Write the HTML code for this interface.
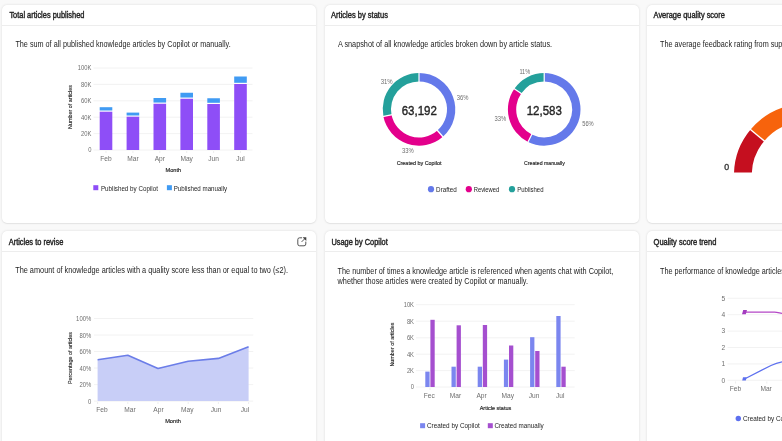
<!DOCTYPE html>
<html><head><meta charset="utf-8"><style>
html,body{margin:0;padding:0}
body{width:782px;height:441px;overflow:hidden;position:relative;background:#f9f9f9;font-family:"Liberation Sans", sans-serif}
#root{position:absolute;left:0;top:0;width:782px;height:441px;will-change:transform}
.card{position:absolute;background:#fff;border-radius:5px;box-shadow:0 0 2.5px rgba(0,0,0,0.13),0 0.5px 1px rgba(0,0,0,0.05)}
.div{position:absolute;height:1px;background:#ededed}
svg{position:absolute;left:0;top:0}
</style></head><body><div id="root">
<div class="card" style="left:2.4px;top:4.6px;width:314.1px;height:218.1px"></div>
<div class="card" style="left:324.8px;top:4.6px;width:314.3px;height:218.1px"></div>
<div class="card" style="left:647.3px;top:4.6px;width:150px;height:218.1px"></div>
<div class="card" style="left:2.4px;top:231.3px;width:314.1px;height:230px"></div>
<div class="card" style="left:324.8px;top:231.3px;width:314.3px;height:230px"></div>
<div class="card" style="left:647.3px;top:231.3px;width:150px;height:230px"></div>
<div class="div" style="left:2.4px;top:24.700000000000003px;width:314.1px"></div>
<div class="div" style="left:324.8px;top:24.700000000000003px;width:314.3px"></div>
<div class="div" style="left:647.3px;top:24.700000000000003px;width:150px"></div>
<div class="div" style="left:2.4px;top:251.20000000000002px;width:314.1px"></div>
<div class="div" style="left:324.8px;top:251.20000000000002px;width:314.3px"></div>
<div class="div" style="left:647.3px;top:251.20000000000002px;width:150px"></div>
<svg width="782" height="441" viewBox="0 0 782 441" style="font-family:"Liberation Sans", sans-serif">
<text x="9.4" y="17.7" font-size="8.3" font-weight="normal" fill="#242424" text-anchor="start" textLength="75" lengthAdjust="spacingAndGlyphs" stroke="#242424" stroke-width="0.398">Total articles published</text>
<text x="331.1" y="17.7" font-size="8.3" font-weight="normal" fill="#242424" text-anchor="start" textLength="56.8" lengthAdjust="spacingAndGlyphs" stroke="#242424" stroke-width="0.398">Articles by status</text>
<text x="653.6" y="17.7" font-size="8.3" font-weight="normal" fill="#242424" text-anchor="start" textLength="71.2" lengthAdjust="spacingAndGlyphs" stroke="#242424" stroke-width="0.398">Average quality score</text>
<text x="8.7" y="245.1" font-size="8.3" font-weight="normal" fill="#242424" text-anchor="start" textLength="54.6" lengthAdjust="spacingAndGlyphs" stroke="#242424" stroke-width="0.398">Articles to revise</text>
<text x="331.4" y="245.1" font-size="8.3" font-weight="normal" fill="#242424" text-anchor="start" textLength="56.3" lengthAdjust="spacingAndGlyphs" stroke="#242424" stroke-width="0.398">Usage by Copilot</text>
<text x="653.6" y="245.1" font-size="8.3" font-weight="normal" fill="#242424" text-anchor="start" textLength="62.7" lengthAdjust="spacingAndGlyphs" stroke="#242424" stroke-width="0.398">Quality score trend</text>
<text x="15.4" y="46.9" font-size="8.8" font-weight="normal" fill="#242424" text-anchor="start" textLength="215.3" lengthAdjust="spacingAndGlyphs">The sum of all published knowledge articles by Copilot or manually.</text>
<text x="337.9" y="46.9" font-size="8.8" font-weight="normal" fill="#242424" text-anchor="start" textLength="214.2" lengthAdjust="spacingAndGlyphs">A snapshot of all knowledge articles broken down by article status.</text>
<text x="660" y="46.9" font-size="8.8" font-weight="normal" fill="#242424" text-anchor="start" textLength="185.58" lengthAdjust="spacingAndGlyphs">The average feedback rating from supervisors and agents</text>
<text x="15.2" y="273.4" font-size="8.8" font-weight="normal" fill="#242424" text-anchor="start" textLength="272.8" lengthAdjust="spacingAndGlyphs">The amount of knowledge articles with a quality score less than or equal to two (≤2).</text>
<text x="337.6" y="273.6" font-size="8.8" font-weight="normal" fill="#242424" text-anchor="start" textLength="275.7" lengthAdjust="spacingAndGlyphs">The number of times a knowledge article is referenced when agents chat with Copilot,</text>
<text x="337.6" y="283.6" font-size="8.8" font-weight="normal" fill="#242424" text-anchor="start" textLength="190.4" lengthAdjust="spacingAndGlyphs">whether those articles were created by Copilot or manually.</text>
<text x="660" y="273.8" font-size="8.8" font-weight="normal" fill="#242424" text-anchor="start" textLength="231.73" lengthAdjust="spacingAndGlyphs">The performance of knowledge articles created by Copilot and manually.</text>
<line x1="93.5" y1="150" x2="252.5" y2="150" stroke="#efefef" stroke-width="0.8"/>
<text x="91.4" y="152.4" font-size="6.6" font-weight="normal" fill="#6e6e6e" text-anchor="end" textLength="3.23" lengthAdjust="spacingAndGlyphs">0</text>
<line x1="93.5" y1="133.6" x2="252.5" y2="133.6" stroke="#efefef" stroke-width="0.8"/>
<text x="91.4" y="136.0" font-size="6.6" font-weight="normal" fill="#6e6e6e" text-anchor="end" textLength="10.33" lengthAdjust="spacingAndGlyphs">20K</text>
<line x1="93.5" y1="117.2" x2="252.5" y2="117.2" stroke="#efefef" stroke-width="0.8"/>
<text x="91.4" y="119.60000000000001" font-size="6.6" font-weight="normal" fill="#6e6e6e" text-anchor="end" textLength="10.33" lengthAdjust="spacingAndGlyphs">40K</text>
<line x1="93.5" y1="100.8" x2="252.5" y2="100.8" stroke="#efefef" stroke-width="0.8"/>
<text x="91.4" y="103.2" font-size="6.6" font-weight="normal" fill="#6e6e6e" text-anchor="end" textLength="10.33" lengthAdjust="spacingAndGlyphs">60K</text>
<line x1="93.5" y1="84.4" x2="252.5" y2="84.4" stroke="#efefef" stroke-width="0.8"/>
<text x="91.4" y="86.80000000000001" font-size="6.6" font-weight="normal" fill="#6e6e6e" text-anchor="end" textLength="10.33" lengthAdjust="spacingAndGlyphs">80K</text>
<line x1="93.5" y1="68" x2="252.5" y2="68" stroke="#efefef" stroke-width="0.8"/>
<text x="91.4" y="70.4" font-size="6.6" font-weight="normal" fill="#6e6e6e" text-anchor="end" textLength="13.56" lengthAdjust="spacingAndGlyphs">100K</text>
<rect x="99.70" y="111.70" width="12.60" height="38.30" fill="#8e4ef7"/>
<rect x="99.70" y="107.20" width="12.60" height="3.30" fill="#409bf3"/>
<text x="106.0" y="160.7" font-size="6.6" font-weight="normal" fill="#6e6e6e" text-anchor="middle">Feb</text>
<rect x="126.60" y="116.70" width="12.60" height="33.30" fill="#8e4ef7"/>
<rect x="126.60" y="112.60" width="12.60" height="2.90" fill="#409bf3"/>
<text x="132.9" y="160.7" font-size="6.6" font-weight="normal" fill="#6e6e6e" text-anchor="middle">Mar</text>
<rect x="153.50" y="103.75" width="12.60" height="46.25" fill="#8e4ef7"/>
<rect x="153.50" y="98.00" width="12.60" height="4.55" fill="#409bf3"/>
<text x="159.8" y="160.7" font-size="6.6" font-weight="normal" fill="#6e6e6e" text-anchor="middle">Apr</text>
<rect x="180.40" y="98.75" width="12.60" height="51.25" fill="#8e4ef7"/>
<rect x="180.40" y="92.75" width="12.60" height="4.80" fill="#409bf3"/>
<text x="186.7" y="160.7" font-size="6.6" font-weight="normal" fill="#6e6e6e" text-anchor="middle">May</text>
<rect x="207.30" y="104.00" width="12.60" height="46.00" fill="#8e4ef7"/>
<rect x="207.30" y="98.25" width="12.60" height="4.55" fill="#409bf3"/>
<text x="213.60000000000002" y="160.7" font-size="6.6" font-weight="normal" fill="#6e6e6e" text-anchor="middle">Jun</text>
<rect x="234.20" y="84.00" width="12.60" height="66.00" fill="#8e4ef7"/>
<rect x="234.20" y="76.50" width="12.60" height="6.30" fill="#409bf3"/>
<text x="240.5" y="160.7" font-size="6.6" font-weight="normal" fill="#6e6e6e" text-anchor="middle">Jul</text>
<text x="173.3" y="171.5" font-size="5.6" font-weight="normal" fill="#242424" text-anchor="middle" textLength="15.7" lengthAdjust="spacingAndGlyphs" stroke="#242424" stroke-width="0.157">Month</text>
<text x="0" y="0" font-size="5.6" font-weight="normal" stroke="#242424" stroke-width="0.12" fill="#242424" text-anchor="middle" textLength="44" lengthAdjust="spacingAndGlyphs" transform="translate(72.2,107) rotate(-90)">Number of articles</text>
<rect x="93.30" y="185.20" width="5.00" height="5.00" fill="#8e4ef7"/>
<text x="100.9" y="190.5" font-size="6.9" font-weight="normal" fill="#242424" text-anchor="start" textLength="57" lengthAdjust="spacingAndGlyphs">Published by Copilot</text>
<rect x="166.90" y="185.20" width="5.00" height="5.00" fill="#409bf3"/>
<text x="173.7" y="190.5" font-size="6.9" font-weight="normal" fill="#242424" text-anchor="start" textLength="53.5" lengthAdjust="spacingAndGlyphs">Published manually</text>
<path d="M419.00,73.10 A36.3,36.3 0 0 1 442.86,136.75 L437.41,130.50 A28.0,28.0 0 0 0 419.00,81.40 Z" fill="#6479ea"/>
<path d="M442.86,136.75 A36.3,36.3 0 0 1 383.38,116.39 L391.52,114.79 A28.0,28.0 0 0 0 437.41,130.50 Z" fill="#e3008c"/>
<path d="M383.38,116.39 A36.3,36.3 0 0 1 419.00,73.10 L419.00,81.40 A28.0,28.0 0 0 0 391.52,114.79 Z" fill="#24a09b"/>
<line x1="419.00" y1="82.40" x2="419.00" y2="72.10" stroke="#fff" stroke-width="1.2"/>
<line x1="436.75" y1="129.75" x2="443.52" y2="137.51" stroke="#fff" stroke-width="1.2"/>
<line x1="392.51" y1="114.60" x2="382.40" y2="116.58" stroke="#fff" stroke-width="1.2"/>
<path d="M544.20,73.10 A36.3,36.3 0 1 1 528.06,141.91 L531.75,134.48 A28.0,28.0 0 1 0 544.20,81.40 Z" fill="#6479ea"/>
<path d="M528.06,141.91 A36.3,36.3 0 0 1 514.36,88.74 L521.18,93.46 A28.0,28.0 0 0 0 531.75,134.48 Z" fill="#e3008c"/>
<path d="M514.36,88.74 A36.3,36.3 0 0 1 544.20,73.10 L544.20,81.40 A28.0,28.0 0 0 0 521.18,93.46 Z" fill="#24a09b"/>
<line x1="544.20" y1="82.40" x2="544.20" y2="72.10" stroke="#fff" stroke-width="1.2"/>
<line x1="532.19" y1="133.58" x2="527.62" y2="142.81" stroke="#fff" stroke-width="1.2"/>
<line x1="522.00" y1="94.03" x2="513.53" y2="88.17" stroke="#fff" stroke-width="1.2"/>
<text x="419.3" y="115.2" font-size="13.2" font-weight="normal" fill="#242424" text-anchor="middle" textLength="35.2" lengthAdjust="spacingAndGlyphs" stroke="#242424" stroke-width="0.38">63,192</text>
<text x="544.3" y="115.2" font-size="13.2" font-weight="normal" fill="#242424" text-anchor="middle" textLength="35.2" lengthAdjust="spacingAndGlyphs" stroke="#242424" stroke-width="0.38">12,583</text>
<text x="380.7" y="83.5" font-size="6.8" font-weight="normal" fill="#6e6e6e" text-anchor="start" textLength="12.0" lengthAdjust="spacingAndGlyphs">31%</text>
<text x="456.8" y="99.9" font-size="6.8" font-weight="normal" fill="#6e6e6e" text-anchor="start" textLength="11.7" lengthAdjust="spacingAndGlyphs">36%</text>
<text x="402.1" y="152.9" font-size="6.8" font-weight="normal" fill="#6e6e6e" text-anchor="start" textLength="11.7" lengthAdjust="spacingAndGlyphs">33%</text>
<text x="519.4" y="74.3" font-size="6.8" font-weight="normal" fill="#6e6e6e" text-anchor="start" textLength="10.8" lengthAdjust="spacingAndGlyphs">11%</text>
<text x="582.2" y="125.8" font-size="6.8" font-weight="normal" fill="#6e6e6e" text-anchor="start" textLength="11.5" lengthAdjust="spacingAndGlyphs">56%</text>
<text x="494.5" y="121.3" font-size="6.8" font-weight="normal" fill="#6e6e6e" text-anchor="start" textLength="11.7" lengthAdjust="spacingAndGlyphs">33%</text>
<text x="419.1" y="164.6" font-size="5.6" font-weight="normal" fill="#242424" text-anchor="middle" textLength="44.9" lengthAdjust="spacingAndGlyphs" stroke="#242424" stroke-width="0.157">Created by Copilot</text>
<text x="544.4" y="164.6" font-size="5.6" font-weight="normal" fill="#242424" text-anchor="middle" textLength="40.7" lengthAdjust="spacingAndGlyphs" stroke="#242424" stroke-width="0.157">Created manually</text>
<circle cx="431" cy="189.2" r="3.1" fill="#6479ea"/>
<text x="436.1" y="191.7" font-size="6.9" font-weight="normal" fill="#242424" text-anchor="start" textLength="20.6" lengthAdjust="spacingAndGlyphs">Drafted</text>
<circle cx="468.8" cy="189.2" r="3.1" fill="#e3008c"/>
<text x="473.7" y="191.7" font-size="6.9" font-weight="normal" fill="#242424" text-anchor="start" textLength="25.6" lengthAdjust="spacingAndGlyphs">Reviewed</text>
<circle cx="512" cy="189.2" r="3.1" fill="#24a09b"/>
<text x="517.2" y="191.7" font-size="6.9" font-weight="normal" fill="#242424" text-anchor="start" textLength="26.3" lengthAdjust="spacingAndGlyphs">Published</text>
<clipPath id="gclip"><rect x="640" y="0" width="200" height="172.6"/></clipPath><g clip-path="url(#gclip)">
<path d="M734.10,179.15 A71.6,71.6 0 0 1 750.59,129.57 L764.27,140.96 A53.8,53.8 0 0 0 751.87,178.22 Z" fill="#c50f1f"/>
</g>
<path d="M750.59,129.57 A71.6,71.6 0 0 1 793.17,104.89 L796.26,122.42 A53.8,53.8 0 0 0 764.27,140.96 Z" fill="#f7630c"/>
<line x1="765.03" y1="141.60" x2="749.82" y2="128.93" stroke="#fff" stroke-width="1.4"/>
<text x="726.6" y="170.4" font-size="8.8" font-weight="normal" fill="#424242" text-anchor="middle" stroke="#424242" stroke-width="0.422">0</text>
<line x1="94" y1="401.1" x2="253.2" y2="401.1" stroke="#efefef" stroke-width="0.8"/>
<text x="91.3" y="403.70000000000005" font-size="6.6" font-weight="normal" fill="#6e6e6e" text-anchor="end" textLength="3.3" lengthAdjust="spacingAndGlyphs">0</text>
<line x1="94" y1="384.6" x2="253.2" y2="384.6" stroke="#efefef" stroke-width="0.8"/>
<text x="91.3" y="387.20000000000005" font-size="6.6" font-weight="normal" fill="#6e6e6e" text-anchor="end" textLength="11.89" lengthAdjust="spacingAndGlyphs">20%</text>
<line x1="94" y1="368.0" x2="253.2" y2="368.0" stroke="#efefef" stroke-width="0.8"/>
<text x="91.3" y="370.6" font-size="6.6" font-weight="normal" fill="#6e6e6e" text-anchor="end" textLength="11.89" lengthAdjust="spacingAndGlyphs">40%</text>
<line x1="94" y1="351.5" x2="253.2" y2="351.5" stroke="#efefef" stroke-width="0.8"/>
<text x="91.3" y="354.1" font-size="6.6" font-weight="normal" fill="#6e6e6e" text-anchor="end" textLength="11.89" lengthAdjust="spacingAndGlyphs">60%</text>
<line x1="94" y1="335.0" x2="253.2" y2="335.0" stroke="#efefef" stroke-width="0.8"/>
<text x="91.3" y="337.6" font-size="6.6" font-weight="normal" fill="#6e6e6e" text-anchor="end" textLength="11.89" lengthAdjust="spacingAndGlyphs">80%</text>
<line x1="94" y1="318.5" x2="253.2" y2="318.5" stroke="#efefef" stroke-width="0.8"/>
<text x="91.3" y="321.1" font-size="6.6" font-weight="normal" fill="#6e6e6e" text-anchor="end" textLength="15.19" lengthAdjust="spacingAndGlyphs">100%</text>
<polygon points="97.6,401.1 97.6,359.8 127.8,355.2 158.0,368.5 188.2,361.2 218.4,358.4 248.6,346.8 248.6,401.1" fill="#c8cef7"/>
<polyline points="97.6,359.8 127.8,355.2 158.0,368.5 188.2,361.2 218.4,358.4 248.6,346.8" fill="none" stroke="#6b7de8" stroke-width="1.6" stroke-linejoin="round"/>
<text x="102" y="412.4" font-size="6.6" font-weight="normal" fill="#6e6e6e" text-anchor="middle">Feb</text>
<text x="130" y="412.4" font-size="6.6" font-weight="normal" fill="#6e6e6e" text-anchor="middle">Mar</text>
<text x="158.5" y="412.4" font-size="6.6" font-weight="normal" fill="#6e6e6e" text-anchor="middle">Apr</text>
<text x="187.3" y="412.4" font-size="6.6" font-weight="normal" fill="#6e6e6e" text-anchor="middle">May</text>
<text x="216" y="412.4" font-size="6.6" font-weight="normal" fill="#6e6e6e" text-anchor="middle">Jun</text>
<text x="245" y="412.4" font-size="6.6" font-weight="normal" fill="#6e6e6e" text-anchor="middle">Jul</text>
<text x="173" y="422.8" font-size="5.6" font-weight="normal" fill="#242424" text-anchor="middle" textLength="15.7" lengthAdjust="spacingAndGlyphs" stroke="#242424" stroke-width="0.157">Month</text>
<text x="0" y="0" font-size="5.6" font-weight="normal" stroke="#242424" stroke-width="0.12" fill="#242424" text-anchor="middle" textLength="52" lengthAdjust="spacingAndGlyphs" transform="translate(72.3,358) rotate(-90)">Percentage of articles</text>
<line x1="416.0" y1="387.0" x2="574.7" y2="387.0" stroke="#efefef" stroke-width="0.8"/>
<text x="414" y="389.4" font-size="6.6" font-weight="normal" fill="#6e6e6e" text-anchor="end" textLength="3.23" lengthAdjust="spacingAndGlyphs">0</text>
<line x1="416.0" y1="370.6" x2="574.7" y2="370.6" stroke="#efefef" stroke-width="0.8"/>
<text x="414" y="373.0" font-size="6.6" font-weight="normal" fill="#6e6e6e" text-anchor="end" textLength="7.1" lengthAdjust="spacingAndGlyphs">2K</text>
<line x1="416.0" y1="354.2" x2="574.7" y2="354.2" stroke="#efefef" stroke-width="0.8"/>
<text x="414" y="356.59999999999997" font-size="6.6" font-weight="normal" fill="#6e6e6e" text-anchor="end" textLength="7.1" lengthAdjust="spacingAndGlyphs">4K</text>
<line x1="416.0" y1="337.8" x2="574.7" y2="337.8" stroke="#efefef" stroke-width="0.8"/>
<text x="414" y="340.2" font-size="6.6" font-weight="normal" fill="#6e6e6e" text-anchor="end" textLength="7.1" lengthAdjust="spacingAndGlyphs">6K</text>
<line x1="416.0" y1="321.2" x2="574.7" y2="321.2" stroke="#efefef" stroke-width="0.8"/>
<text x="414" y="323.59999999999997" font-size="6.6" font-weight="normal" fill="#6e6e6e" text-anchor="end" textLength="7.1" lengthAdjust="spacingAndGlyphs">8K</text>
<line x1="416.0" y1="304.7" x2="574.7" y2="304.7" stroke="#efefef" stroke-width="0.8"/>
<text x="414" y="307.09999999999997" font-size="6.6" font-weight="normal" fill="#6e6e6e" text-anchor="end" textLength="10.33" lengthAdjust="spacingAndGlyphs">10K</text>
<rect x="425.30" y="371.60" width="4.30" height="15.40" fill="#7b86ef"/>
<rect x="430.40" y="319.80" width="4.30" height="67.20" fill="#a54fcf"/>
<text x="429.2" y="397.9" font-size="6.6" font-weight="normal" fill="#6e6e6e" text-anchor="middle">Fec</text>
<rect x="451.50" y="366.70" width="4.30" height="20.30" fill="#7b86ef"/>
<rect x="456.60" y="325.30" width="4.30" height="61.70" fill="#a54fcf"/>
<text x="455.4" y="397.9" font-size="6.6" font-weight="normal" fill="#6e6e6e" text-anchor="middle">Mar</text>
<rect x="477.70" y="366.70" width="4.30" height="20.30" fill="#7b86ef"/>
<rect x="482.80" y="325.00" width="4.30" height="62.00" fill="#a54fcf"/>
<text x="481.59999999999997" y="397.9" font-size="6.6" font-weight="normal" fill="#6e6e6e" text-anchor="middle">Apr</text>
<rect x="503.90" y="359.60" width="4.30" height="27.40" fill="#7b86ef"/>
<rect x="509.00" y="345.50" width="4.30" height="41.50" fill="#a54fcf"/>
<text x="507.79999999999995" y="397.9" font-size="6.6" font-weight="normal" fill="#6e6e6e" text-anchor="middle">May</text>
<rect x="530.10" y="337.20" width="4.30" height="49.80" fill="#7b86ef"/>
<rect x="535.20" y="351.00" width="4.30" height="36.00" fill="#a54fcf"/>
<text x="534.0" y="397.9" font-size="6.6" font-weight="normal" fill="#6e6e6e" text-anchor="middle">Jun</text>
<rect x="556.30" y="316.00" width="4.30" height="71.00" fill="#7b86ef"/>
<rect x="561.40" y="366.70" width="4.30" height="20.30" fill="#a54fcf"/>
<text x="560.1999999999999" y="397.9" font-size="6.6" font-weight="normal" fill="#6e6e6e" text-anchor="middle">Jul</text>
<text x="495.5" y="409.6" font-size="5.6" font-weight="normal" fill="#242424" text-anchor="middle" textLength="31.6" lengthAdjust="spacingAndGlyphs" stroke="#242424" stroke-width="0.157">Article status</text>
<text x="0" y="0" font-size="5.6" font-weight="normal" stroke="#242424" stroke-width="0.12" fill="#242424" text-anchor="middle" textLength="44" lengthAdjust="spacingAndGlyphs" transform="translate(394.4,344.6) rotate(-90)">Number of articles</text>
<rect x="420.10" y="423.20" width="5.00" height="5.00" fill="#7b86ef"/>
<text x="427" y="428.0" font-size="6.9" font-weight="normal" fill="#242424" text-anchor="start" textLength="52.7" lengthAdjust="spacingAndGlyphs">Created by Copilot</text>
<rect x="487.80" y="423.20" width="5.00" height="5.00" fill="#a54fcf"/>
<text x="494.4" y="428.0" font-size="6.9" font-weight="normal" fill="#242424" text-anchor="start" textLength="49.3" lengthAdjust="spacingAndGlyphs">Created manually</text>
<line x1="727.5" y1="380.3" x2="790" y2="380.3" stroke="#efefef" stroke-width="0.8"/>
<text x="723.3" y="382.5" font-size="6.6" font-weight="normal" fill="#6e6e6e" text-anchor="middle">0</text>
<line x1="727.5" y1="363.9" x2="790" y2="363.9" stroke="#efefef" stroke-width="0.8"/>
<text x="723.3" y="366.09999999999997" font-size="6.6" font-weight="normal" fill="#6e6e6e" text-anchor="middle">1</text>
<line x1="727.5" y1="347.5" x2="790" y2="347.5" stroke="#efefef" stroke-width="0.8"/>
<text x="723.3" y="349.7" font-size="6.6" font-weight="normal" fill="#6e6e6e" text-anchor="middle">2</text>
<line x1="727.5" y1="331.1" x2="790" y2="331.1" stroke="#efefef" stroke-width="0.8"/>
<text x="723.3" y="333.3" font-size="6.6" font-weight="normal" fill="#6e6e6e" text-anchor="middle">3</text>
<line x1="727.5" y1="314.7" x2="790" y2="314.7" stroke="#efefef" stroke-width="0.8"/>
<text x="723.3" y="316.9" font-size="6.6" font-weight="normal" fill="#6e6e6e" text-anchor="middle">4</text>
<line x1="727.5" y1="298.3" x2="790" y2="298.3" stroke="#efefef" stroke-width="0.8"/>
<text x="723.3" y="300.5" font-size="6.6" font-weight="normal" fill="#6e6e6e" text-anchor="middle">5</text>
<path d="M744.5,312.2 L774.5,312.2 C778,312.2 780,313.3 784,313.6" fill="none" stroke="#b447c6" stroke-width="1.3"/>
<path d="M743.2,310 L747,310 L745.8,314.3 L742,314.3 Z" fill="#a33bbf"/>
<path d="M744.5,379 L771,365.5 C775,363.5 778,362.3 784,361.5" fill="none" stroke="#5d70ef" stroke-width="1.3"/>
<path d="M743,377.3 L746.6,377.3 L745.8,380.6 L742.2,380.6 Z" fill="#5d70ef"/>
<text x="735.4" y="391.3" font-size="6.6" font-weight="normal" fill="#6e6e6e" text-anchor="middle">Feb</text>
<text x="766.1" y="391.3" font-size="6.6" font-weight="normal" fill="#6e6e6e" text-anchor="middle">Mar</text>
<circle cx="738.3" cy="418.5" r="2.7" fill="#5d70ef"/>
<text x="743" y="421.0" font-size="6.9" font-weight="normal" fill="#242424" text-anchor="start" textLength="52.7" lengthAdjust="spacingAndGlyphs">Created by Copilot</text>
<path d="M302,237.8 H299.6 A1.8,1.8 0 0 0 297.8,239.6 V244 A1.8,1.8 0 0 0 299.6,245.8 H304 A1.8,1.8 0 0 0 305.8,244 V241.6" fill="none" stroke="#424242" stroke-width="0.9"/>
<path d="M301.6,241.9 L304.6,238.9" fill="none" stroke="#424242" stroke-width="0.9"/>
<path d="M302.6,237.2 L306.3,237.2 L306.3,240.9 Z" fill="#424242"/>
<line x1="106.0" y1="151" x2="106.0" y2="153" stroke="#e6e6e6" stroke-width="0.7"/>
<line x1="132.9" y1="151" x2="132.9" y2="153" stroke="#e6e6e6" stroke-width="0.7"/>
<line x1="159.8" y1="151" x2="159.8" y2="153" stroke="#e6e6e6" stroke-width="0.7"/>
<line x1="186.7" y1="151" x2="186.7" y2="153" stroke="#e6e6e6" stroke-width="0.7"/>
<line x1="213.60000000000002" y1="151" x2="213.60000000000002" y2="153" stroke="#e6e6e6" stroke-width="0.7"/>
<line x1="240.5" y1="151" x2="240.5" y2="153" stroke="#e6e6e6" stroke-width="0.7"/>
<line x1="97.6" y1="402" x2="97.6" y2="404" stroke="#e6e6e6" stroke-width="0.7"/>
<line x1="127.8" y1="402" x2="127.8" y2="404" stroke="#e6e6e6" stroke-width="0.7"/>
<line x1="158.0" y1="402" x2="158.0" y2="404" stroke="#e6e6e6" stroke-width="0.7"/>
<line x1="188.2" y1="402" x2="188.2" y2="404" stroke="#e6e6e6" stroke-width="0.7"/>
<line x1="218.39999999999998" y1="402" x2="218.39999999999998" y2="404" stroke="#e6e6e6" stroke-width="0.7"/>
<line x1="248.6" y1="402" x2="248.6" y2="404" stroke="#e6e6e6" stroke-width="0.7"/>
<line x1="430.0" y1="388" x2="430.0" y2="390" stroke="#e6e6e6" stroke-width="0.7"/>
<line x1="456.2" y1="388" x2="456.2" y2="390" stroke="#e6e6e6" stroke-width="0.7"/>
<line x1="482.4" y1="388" x2="482.4" y2="390" stroke="#e6e6e6" stroke-width="0.7"/>
<line x1="508.59999999999997" y1="388" x2="508.59999999999997" y2="390" stroke="#e6e6e6" stroke-width="0.7"/>
<line x1="534.8000000000001" y1="388" x2="534.8000000000001" y2="390" stroke="#e6e6e6" stroke-width="0.7"/>
<line x1="561.0" y1="388" x2="561.0" y2="390" stroke="#e6e6e6" stroke-width="0.7"/>
<line x1="735.5" y1="381.5" x2="735.5" y2="383.5" stroke="#e6e6e6" stroke-width="0.7"/>
<line x1="766.8" y1="381.5" x2="766.8" y2="383.5" stroke="#e6e6e6" stroke-width="0.7"/>
</svg>
</div></body></html>
